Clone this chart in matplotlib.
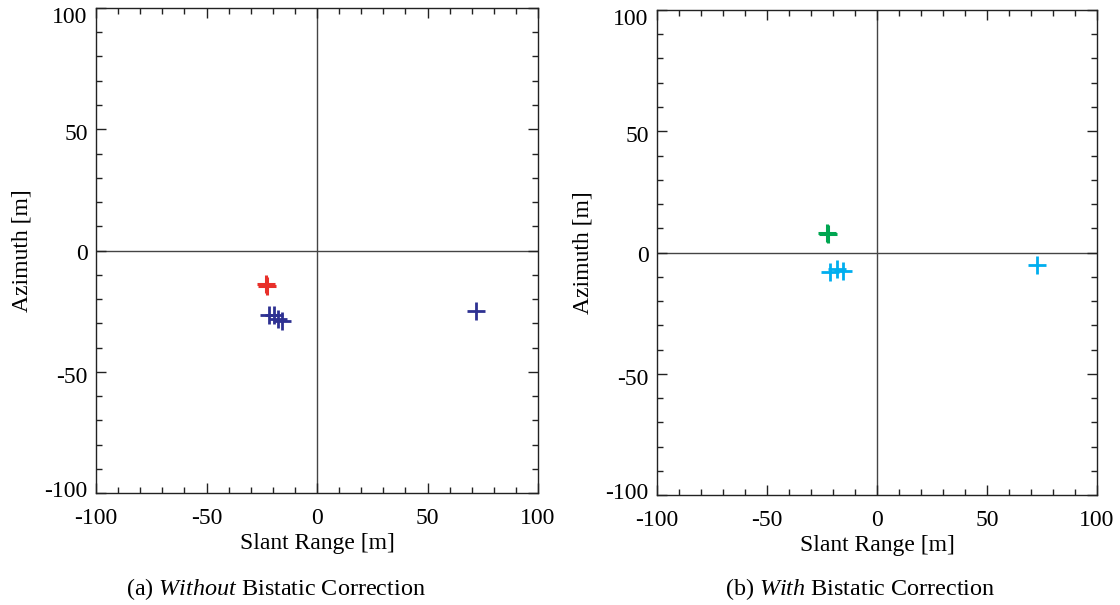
import matplotlib
matplotlib.use("Agg")
import matplotlib.pyplot as plt
from matplotlib.ticker import MultipleLocator
from matplotlib.transforms import ScaledTranslation

plt.rcParams['font.family'] = ['Liberation Serif', 'DejaVu Serif']
plt.rcParams['mathtext.fontset'] = 'custom'
plt.rcParams['mathtext.rm'] = 'Liberation Serif'
plt.rcParams['mathtext.it'] = 'Liberation Serif:italic'

# Target positions without bistatic correction (slant range, azimuth) in metres
raw_ref_x = [-23.3, -22.6]
raw_ref_y = [-13.7, -14.7]
raw_tgt_x = [-21.6, -19.4, -17.5, -16.0, 71.8]
raw_tgt_y = [-26.4, -26.6, -28.2, -29.0, -25.1]

# Target positions with bistatic correction
cor_ref_x = [-22.6, -22.2]
cor_ref_y = [7.9, 7.5]
cor_tgt_x = [-21.4, -18.0, -15.6, 72.6]
cor_tgt_y = [-7.9, -6.9, -7.5, -5.0]

x_ticks = [-100, -50, 0, 50, 100]
y_ticks = [-100, -50, 0, 50, 100]
captions = ["(a) $\\it{Without}$ Bistatic Correction",
            "(b) $\\it{With}$ Bistatic Correction"]

RED = '#E8302A'
NAVY = '#2E3192'
GREEN = '#00A651'
CYAN = '#00AEEF'

W, H = 1120, 605
fig = plt.figure(figsize=(W / 100, H / 100), dpi=100)
ax1 = fig.add_axes([96 / W, 1 - 493 / H, 442 / W, 485 / H])
ax2 = fig.add_axes([657 / W, 1 - 495 / H, 440 / W, 485 / H])

panels = [
    (ax1, raw_ref_x, raw_ref_y, RED, raw_tgt_x, raw_tgt_y, NAVY, captions[0], 276),
    (ax2, cor_ref_x, cor_ref_y, GREEN, cor_tgt_x, cor_tgt_y, CYAN, captions[1], 860),
]

# vertical nudge (pixels, positive = down) for the azimuth tick labels
ylab_shift = {-100: -4, -50: 3, 0: 1, 50: 3, 100: 7}

fs = 17
for ax, rx, ry, rc, tx, ty, tc, cap, cap_x in panels:
    ax.axhline(0, color='#444444', lw=1.0, zorder=1)
    ax.axvline(0, color='#444444', lw=1.0, zorder=1)
    ax.plot(tx, ty, linestyle='none', marker='+', ms=12.5, mew=2.0,
            color=tc, zorder=3)
    ax.plot(rx, ry, linestyle='none', marker='+', ms=12.5, mew=2.2,
            color=rc, zorder=3)
    ax.set_xlim(-100, 100)
    ax.set_ylim(-100, 100)
    ax.set_xticks(x_ticks)
    ax.set_yticks(y_ticks)
    ax.set_xticklabels([str(v) for v in x_ticks])
    ax.set_yticklabels([str(v) for v in y_ticks])
    ax.xaxis.set_minor_locator(MultipleLocator(10))
    ax.yaxis.set_minor_locator(MultipleLocator(10))
    ax.tick_params(which='both', direction='in', top=True, right=True,
                   width=1.0, color='#222222')
    ax.tick_params(which='major', length=7.2)
    ax.tick_params(which='minor', length=4.0)
    ax.tick_params(axis='x', which='major', pad=11, labelsize=fs)
    ax.tick_params(axis='y', which='major', pad=6, labelsize=fs)
    for v, lab in zip(y_ticks, ax.get_yticklabels()):
        lab.set_transform(lab.get_transform() +
                          ScaledTranslation(0, -ylab_shift[v] / 100,
                                            fig.dpi_scale_trans))
    for sp in ax.spines.values():
        sp.set_linewidth(1.0)
        sp.set_color('#222222')
    ax.set_xlabel('Slant Range [m]', fontsize=fs, labelpad=3)
    ax.set_ylabel('Azimuth [m]', fontsize=fs, labelpad=8.5)
    fig.text(cap_x / W, 1 - 595 / H, cap, ha='center', va='baseline',
             fontsize=17.4)

fig.savefig('out.png', dpi=100, facecolor='white')
